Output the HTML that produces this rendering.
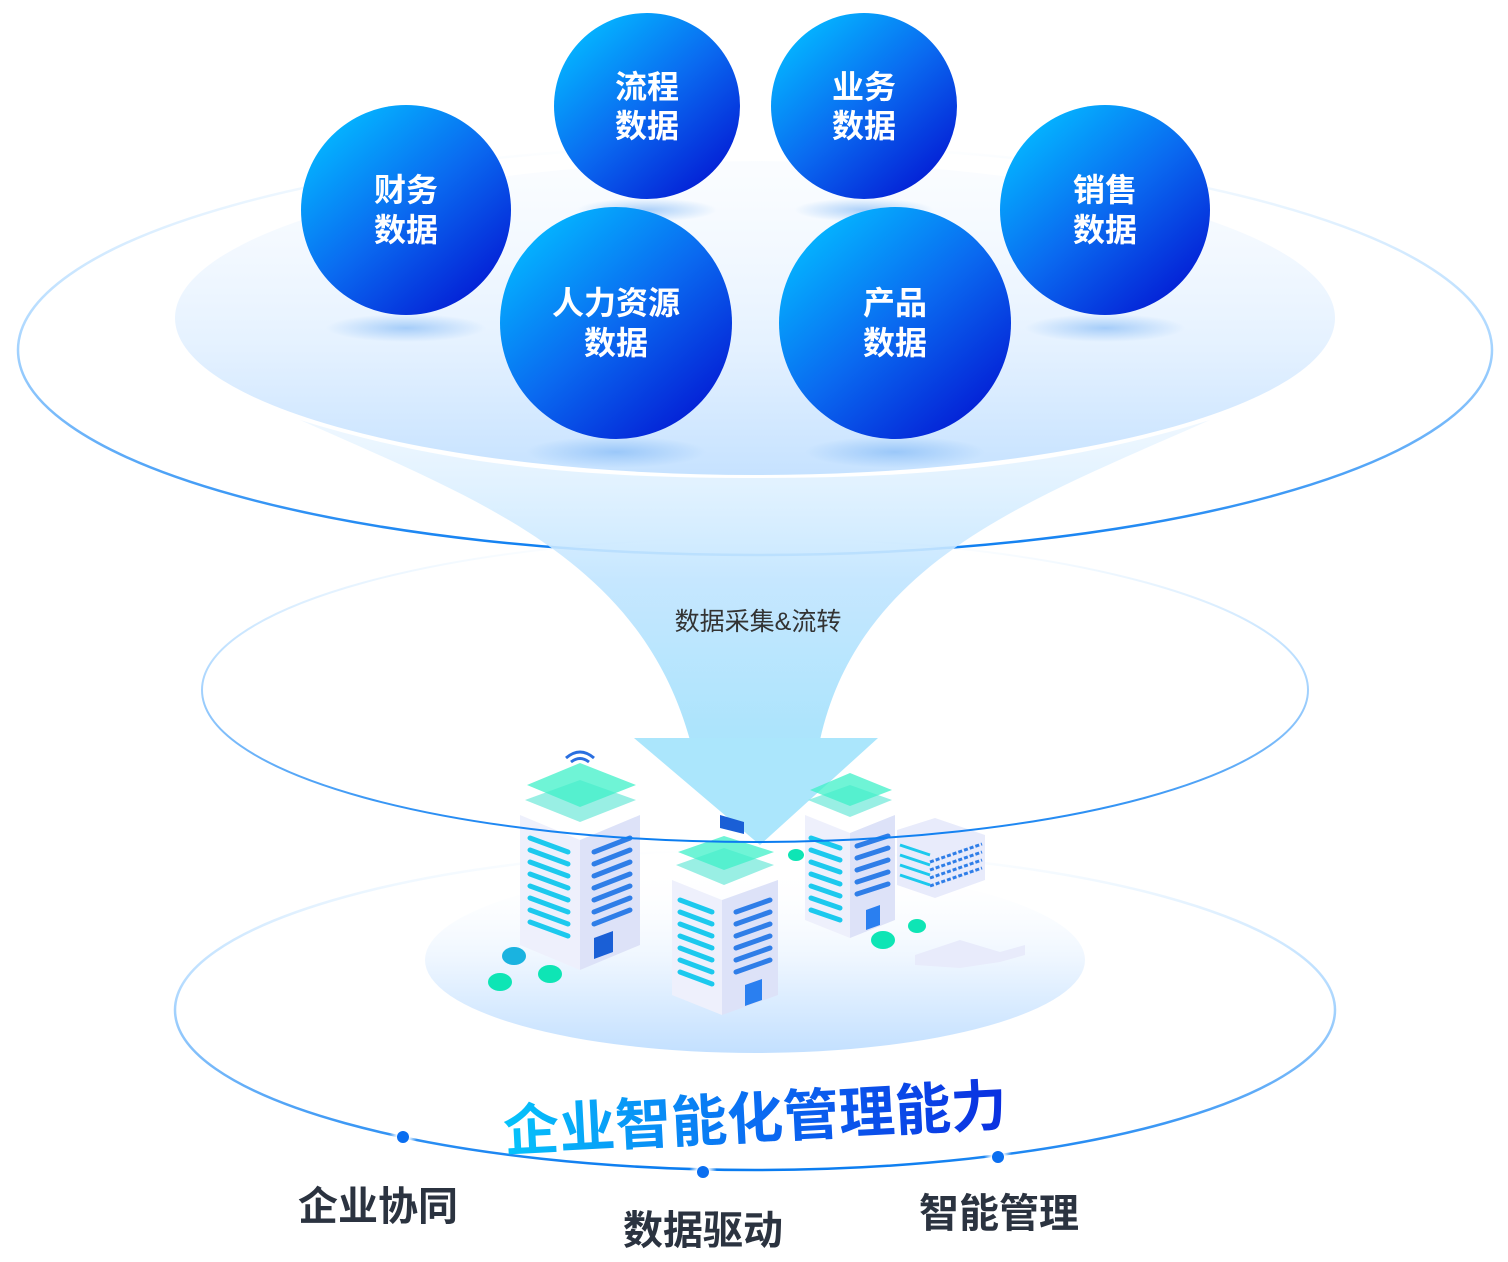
<!DOCTYPE html>
<html><head><meta charset="utf-8"><style>
html,body{margin:0;padding:0;background:#fff;}
svg{display:block;}
text{font-family:"Liberation Sans","Noto Sans CJK SC",sans-serif;}
</style></head><body>
<svg width="1508" height="1262" viewBox="0 0 1508 1262" xmlns="http://www.w3.org/2000/svg">
<defs>
<linearGradient id="ball" x1="0.15" y1="0.1" x2="0.85" y2="0.9">
<stop offset="0" stop-color="#04b4ff"/><stop offset="0.5" stop-color="#0a6af0"/><stop offset="1" stop-color="#0420d6"/>
</linearGradient>
<linearGradient id="ringTop" x1="0" y1="0" x2="0" y2="1">
<stop offset="0" stop-color="#9fd3ff" stop-opacity="0"/><stop offset="0.45" stop-color="#8cc8ff" stop-opacity="0.7"/><stop offset="1" stop-color="#0a7cf0"/>
</linearGradient>
<linearGradient id="ringMid" x1="0" y1="0" x2="0" y2="1">
<stop offset="0" stop-color="#9fd3ff" stop-opacity="0"/><stop offset="0.4" stop-color="#8cc8ff" stop-opacity="0.6"/><stop offset="1" stop-color="#0a7cf0"/>
</linearGradient>
<linearGradient id="innerFill" x1="0" y1="0" x2="0" y2="1">
<stop offset="0" stop-color="#f4f9ff" stop-opacity="0.4"/><stop offset="0.6" stop-color="#e4f1ff"/><stop offset="1" stop-color="#c6e2ff"/>
</linearGradient>
<linearGradient id="funnel" x1="0" y1="0" x2="0" y2="1">
<stop offset="0" stop-color="#dff0ff" stop-opacity="0.5"/><stop offset="0.5" stop-color="#c6e7ff"/><stop offset="1" stop-color="#abe4fc"/>
</linearGradient>
<linearGradient id="plat" x1="0" y1="0" x2="0" y2="1">
<stop offset="0" stop-color="#ffffff" stop-opacity="0"/><stop offset="0.5" stop-color="#eef6ff"/><stop offset="1" stop-color="#c3e0ff"/>
</linearGradient>
<linearGradient id="title" x1="0" y1="0" x2="1" y2="0">
<stop offset="0" stop-color="#06c4fb"/><stop offset="0.5" stop-color="#0a6cf2"/><stop offset="1" stop-color="#0a2fe0"/>
</linearGradient>
<radialGradient id="shadow"><stop offset="0" stop-color="#7ab4f5" stop-opacity="0.6"/><stop offset="1" stop-color="#7ab4f5" stop-opacity="0"/></radialGradient>
<radialGradient id="dotglow"><stop offset="0.4" stop-color="#ffffff"/><stop offset="1" stop-color="#ffffff" stop-opacity="0"/></radialGradient>
</defs>

<ellipse cx="755" cy="1010" rx="580" ry="160" fill="none" stroke="url(#ringMid)" stroke-width="2.5"/>
<ellipse cx="755" cy="960" rx="330" ry="93" fill="url(#plat)"/>
<ellipse cx="755" cy="350" rx="737" ry="205" fill="none" stroke="url(#ringTop)" stroke-width="2.5"/>
<ellipse cx="755" cy="318" rx="580" ry="157" fill="url(#innerFill)"/>
<path d="M300,420 C480,500 640,560 690,740 L820,740 C860,560 1030,500 1210,420 C1050,470 900,478 755,478 C610,478 460,470 300,420 Z" fill="url(#funnel)"/>
<polygon points="634,738 878,738 760,845" fill="#abe6fc"/>
<text x="758" y="630" font-size="25" fill="#333" text-anchor="middle">数据采集&amp;流转</text>

<ellipse cx="406" cy="328" rx="80" ry="14" fill="url(#shadow)"/>
<ellipse cx="1105" cy="328" rx="80" ry="14" fill="url(#shadow)"/>
<ellipse cx="616" cy="452" rx="90" ry="16" fill="url(#shadow)"/>
<ellipse cx="895" cy="452" rx="90" ry="16" fill="url(#shadow)"/>
<ellipse cx="647" cy="210" rx="70" ry="12" fill="url(#shadow)"/>
<ellipse cx="864" cy="210" rx="70" ry="12" fill="url(#shadow)"/>

<g font-size="32" fill="#fff" text-anchor="middle" font-weight="bold">
<circle cx="647" cy="106" r="93" fill="url(#ball)"/>
<text x="647" y="98">流程</text><text x="647" y="137">数据</text>
<circle cx="864" cy="106" r="93" fill="url(#ball)"/>
<text x="864" y="98">业务</text><text x="864" y="137">数据</text>
<circle cx="406" cy="210" r="105" fill="url(#ball)"/>
<text x="406" y="201">财务</text><text x="406" y="241">数据</text>
<circle cx="1105" cy="210" r="105" fill="url(#ball)"/>
<text x="1105" y="201">销售</text><text x="1105" y="241">数据</text>
<circle cx="616" cy="323" r="116" fill="url(#ball)"/>
<text x="616" y="314">人力资源</text><text x="616" y="354">数据</text>
<circle cx="895" cy="323" r="116" fill="url(#ball)"/>
<text x="895" y="314">产品</text><text x="895" y="354">数据</text>
</g>

<g>
<polygon points="520,815 580,840 580,970 520,945" fill="#eef0fc"/>
<polygon points="580,840 640,815 640,945 580,970" fill="#dde2f8"/>
<g stroke="#1cc9ee" stroke-width="5" stroke-linecap="round">
<line x1="530" y1="838" x2="568" y2="852"/><line x1="530" y1="850" x2="568" y2="864"/><line x1="530" y1="862" x2="568" y2="876"/><line x1="530" y1="874" x2="568" y2="888"/><line x1="530" y1="886" x2="568" y2="900"/><line x1="530" y1="898" x2="568" y2="912"/><line x1="530" y1="910" x2="568" y2="924"/><line x1="530" y1="922" x2="568" y2="936"/>
</g>
<g stroke="#2f7ee8" stroke-width="5" stroke-linecap="round">
<line x1="594" y1="852" x2="630" y2="838"/><line x1="594" y1="864" x2="630" y2="850"/><line x1="594" y1="876" x2="630" y2="862"/><line x1="594" y1="888" x2="630" y2="874"/><line x1="594" y1="900" x2="630" y2="886"/><line x1="594" y1="912" x2="630" y2="898"/><line x1="594" y1="924" x2="630" y2="910"/>
</g>
<polygon points="594,938 613,931 613,952 594,959" fill="#1a5fd6"/>
<polygon points="525,800 580,780 636,800 580,822" fill="#6ee8d8" opacity="0.7"/>
<polygon points="527,785 580,763 636,785 580,807" fill="#3ff0c8" opacity="0.75"/>
<path d="M566,758 q14,-12 28,0 M571,762 q9,-7 18,0" stroke="#2a6fe0" stroke-width="3" fill="none"/>
<polygon points="672,880 722,900 722,1015 672,995" fill="#eef0fc"/>
<polygon points="722,900 778,880 778,995 722,1015" fill="#dde2f8"/>
<g stroke="#1cc9ee" stroke-width="5" stroke-linecap="round">
<line x1="680" y1="900" x2="712" y2="912"/><line x1="680" y1="912" x2="712" y2="924"/><line x1="680" y1="924" x2="712" y2="936"/><line x1="680" y1="936" x2="712" y2="948"/><line x1="680" y1="948" x2="712" y2="960"/><line x1="680" y1="960" x2="712" y2="972"/><line x1="680" y1="972" x2="712" y2="984"/>
</g>
<g stroke="#2f7ee8" stroke-width="5" stroke-linecap="round">
<line x1="736" y1="912" x2="770" y2="900"/><line x1="736" y1="924" x2="770" y2="912"/><line x1="736" y1="936" x2="770" y2="924"/><line x1="736" y1="948" x2="770" y2="936"/><line x1="736" y1="960" x2="770" y2="948"/><line x1="736" y1="972" x2="770" y2="960"/>
</g>
<polygon points="745,985 762,979 762,1000 745,1006" fill="#2a7ff0"/>
<polygon points="676,865 724,848 774,865 724,885" fill="#6ee8d8" opacity="0.7"/>
<polygon points="678,852 724,836 774,852 724,870" fill="#3ff0c8" opacity="0.75"/>
<polygon points="720,815 744,822 744,834 720,828" fill="#1a5fd6"/>
<polygon points="805,815 850,833 850,938 805,920" fill="#eef0fc"/>
<polygon points="850,833 895,815 895,920 850,938" fill="#dde2f8"/>
<g stroke="#1cc9ee" stroke-width="5" stroke-linecap="round">
<line x1="811" y1="838" x2="840" y2="848"/><line x1="811" y1="850" x2="840" y2="860"/><line x1="811" y1="862" x2="840" y2="872"/><line x1="811" y1="874" x2="840" y2="884"/><line x1="811" y1="886" x2="840" y2="896"/><line x1="811" y1="898" x2="840" y2="908"/><line x1="811" y1="910" x2="840" y2="920"/>
</g>
<g stroke="#2f7ee8" stroke-width="5" stroke-linecap="round">
<line x1="857" y1="846" x2="888" y2="836"/><line x1="857" y1="858" x2="888" y2="848"/><line x1="857" y1="870" x2="888" y2="860"/><line x1="857" y1="882" x2="888" y2="872"/><line x1="857" y1="894" x2="888" y2="884"/>
</g>
<polygon points="866,910 880,905 880,925 866,930" fill="#2a7ff0"/>
<polygon points="808,800 850,785 892,800 850,817" fill="#6ee8d8" opacity="0.7"/>
<polygon points="810,790 850,773 892,790 850,806" fill="#3ff0c8" opacity="0.75"/>
<polygon points="897,830 935,818 985,835 985,880 935,898 897,885" fill="#e8ebfb"/>
<g stroke="#1cc9ee" stroke-width="3"><line x1="900" y1="845" x2="930" y2="855"/><line x1="900" y1="855" x2="930" y2="865"/><line x1="900" y1="865" x2="930" y2="875"/><line x1="900" y1="875" x2="930" y2="885"/></g>
<g stroke="#2f7ee8" stroke-width="3" stroke-dasharray="4 2"><line x1="930" y1="870" x2="982" y2="852"/><line x1="930" y1="878" x2="982" y2="860"/><line x1="930" y1="886" x2="982" y2="868"/><line x1="930" y1="862" x2="982" y2="844"/></g>
<polygon points="915,955 960,940 1000,952 1025,945 1025,955 1000,962 960,968 915,965" fill="#e8ebfb"/>
<ellipse cx="514" cy="956" rx="12" ry="9" fill="#1ab3e0"/>
<ellipse cx="500" cy="982" rx="12" ry="9" fill="#0ee5b5"/>
<ellipse cx="550" cy="974" rx="12" ry="9" fill="#0ee5b5"/>
<ellipse cx="796" cy="855" rx="8" ry="6" fill="#0ee5b5"/>
<ellipse cx="883" cy="940" rx="12" ry="9" fill="#0ee5b5"/>
<ellipse cx="917" cy="926" rx="9" ry="7" fill="#0ee5b5"/>
</g>
<ellipse cx="755" cy="690" rx="553" ry="152" fill="none" stroke="url(#ringMid)" stroke-width="2"/>

<circle cx="403" cy="1137" r="14" fill="url(#dotglow)"/><circle cx="403" cy="1137" r="6" fill="#0a6ef0"/>
<circle cx="703" cy="1172" r="14" fill="url(#dotglow)"/><circle cx="703" cy="1172" r="6" fill="#0a6ef0"/>
<circle cx="998" cy="1157" r="14" fill="url(#dotglow)"/><circle cx="998" cy="1157" r="6" fill="#0a6ef0"/>

<text x="755" y="1138" font-size="56" font-weight="bold" fill="url(#title)" text-anchor="middle" transform="rotate(-3 755 1118)">企业智能化管理能力</text>
<g font-size="40" fill="#2b3340" text-anchor="middle" font-weight="bold">
<text x="378" y="1220">企业协同</text>
<text x="703" y="1244">数据驱动</text>
<text x="999" y="1227">智能管理</text>
</g>
</svg>
</body></html>
